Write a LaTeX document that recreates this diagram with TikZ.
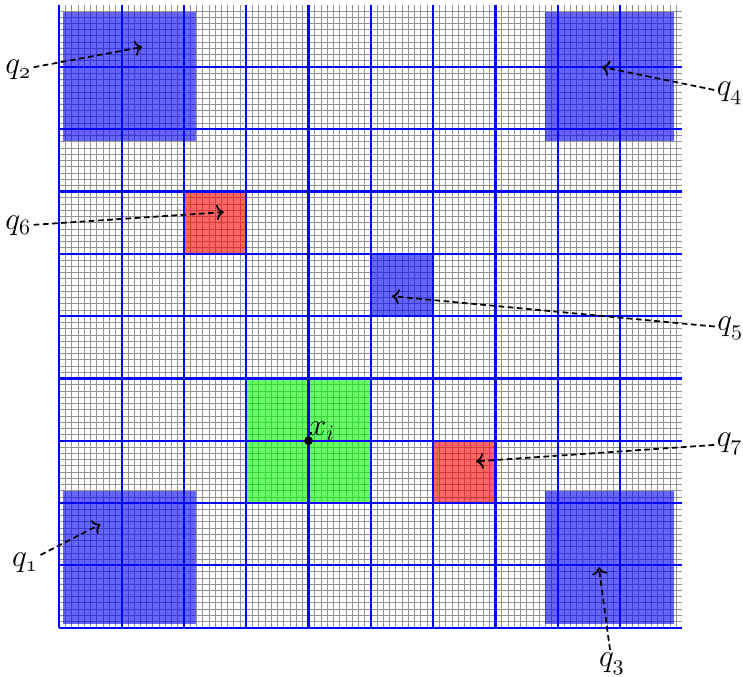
\documentclass[tikz,border=0pt]{standalone}
\usepackage{amsmath}
\usetikzlibrary{calc,arrows.meta}

\begin{document}
\begin{tikzpicture}[scale=1.0,
    qlabel/.style={inner sep=1pt, font=\Large},
    qarrow/.style={->, dashed, thick, dash pattern=on 2.6pt off 1.6pt, black},
    cellfill/.style={fill opacity=0.6}]
  \useasboundingbox (-0.952,-0.791) rectangle (10.974,10.075);

  % Fine grid: 100 x 100 cells
  \draw[gray!85, line width=0.3pt] (0,0) grid[step=0.1] (10,10);

  % Far-field boxes in the four corners
  \fill[blue, cellfill] (0.06,0.06) rectangle (2.19,2.19);
  \fill[blue, cellfill] (7.80,0.06) rectangle (9.87,2.19);
  \fill[blue, cellfill] (0.06,7.81) rectangle (2.19,9.88);
  \fill[blue, cellfill] (7.80,7.81) rectangle (9.87,9.88);

  % Single cells
  \fill[blue,  cellfill] (5,5) rectangle (6,6);
  \fill[red,   cellfill] (2,6) rectangle (3,7);
  \fill[red,   cellfill] (6,2) rectangle (7,3);
  \fill[green, cellfill] (3,2) rectangle (5,4);

  % Coarse grid
  \foreach \i in {0,...,9} {
    \draw[blue, line width=1pt] (\i,0) -- (\i,10);
    \draw[blue, line width=1pt] (0,\i) -- (10,\i);
  }

  % Point x_i
  \coordinate (xi) at (4,3);
  \fill[black] (xi) circle (2pt) node[above right, inner sep=0pt, font=\Large] {$x_i$};

  % Targets inside the boxes
  \coordinate (t1) at (0.66,1.66);
  \coordinate (t2) at (1.33,9.32);
  \coordinate (t3) at (8.66,0.97);
  \coordinate (t4) at (8.71,9.00);
  \coordinate (t5) at (5.34,5.32);
  \coordinate (t6) at (2.64,6.67);
  \coordinate (t7) at (6.69,2.67);

  % Labels
  \node[qlabel] (q1) at (-0.55, 1.04) {$q_{\oldstylenums{1}}$};
  \node[qlabel] (q2) at (-0.66, 8.95) {$q_{\oldstylenums{2}}$};
  \node[qlabel] (q3) at ( 8.87,-0.58) {$q_{\oldstylenums{3}}$};
  \node[qlabel] (q4) at (10.76, 8.58) {$q_{\oldstylenums{4}}$};
  \node[qlabel] (q5) at (10.77, 4.81) {$q_{\oldstylenums{5}}$};
  \node[qlabel] (q6) at (-0.66, 6.45) {$q_{\oldstylenums{6}}$};
  \node[qlabel] (q7) at (10.76, 2.95) {$q_{\oldstylenums{7}}$};

  % Dashed arrows
  \foreach \k in {1,...,7}
    \draw[qarrow] (q\k) -- (t\k);
\end{tikzpicture}
\end{document}
